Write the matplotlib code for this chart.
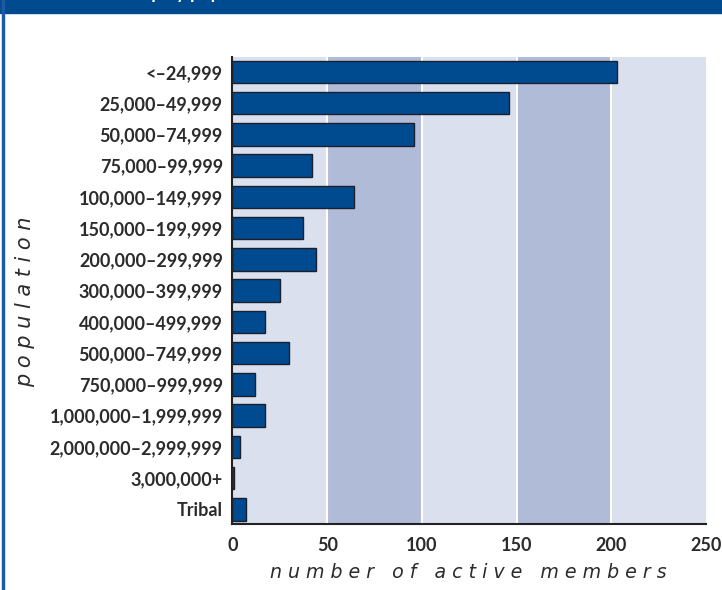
import matplotlib
matplotlib.use('Agg')
import matplotlib.pyplot as plt
from matplotlib.patches import Rectangle

# population groups and number of active members
categories = ['<–24,999', '25,000–49,999', '50,000–74,999', '75,000–99,999',
              '100,000–149,999', '150,000–199,999', '200,000–299,999',
              '300,000–399,999', '400,000–499,999', '500,000–749,999',
              '750,000–999,999', '1,000,000–1,999,999', '2,000,000–2,999,999',
              '3,000,000+', 'Tribal']
members = [203, 146, 96, 42, 64, 37, 44, 25, 17, 30, 12, 17, 4, 1, 7]
x_ticks = [0, 50, 100, 150, 200, 250]

dark_blue = '#004a8f'
text_col = '#2b2b2b'

fig = plt.figure(figsize=(7.22, 5.9), dpi=100)

# header bar (title runs off the top of the crop) and frame line
fig.patches.append(Rectangle((0, 1 - 13 / 590), 1, 13 / 590, transform=fig.transFigure,
                             color=dark_blue, zorder=0))
fig.patches.append(Rectangle((1.5 / 722, 0), 2 / 722, 1, transform=fig.transFigure,
                             color='#1c5aa6', zorder=0))
fig.text(60 / 722, 1 + 1 / 590, 'Membership by population', color='white',
         fontsize=13, fontweight='bold', family='Lato', va='baseline')

ax = fig.add_axes([232.5 / 722, 1 - 524.3 / 590, (706 - 232.5) / 722, (524.3 - 57) / 590])

# alternating background bands
for i in range(len(x_ticks) - 1):
    c = '#dbe0ee' if i % 2 == 0 else '#b0bbd8'
    ax.axvspan(x_ticks[i], x_ticks[i + 1], color=c, lw=0, zorder=0)
for t in x_ticks[1:-1]:
    ax.axvline(t, color='white', lw=1.5, zorder=1)

ypos = list(range(len(categories)))
ax.barh(ypos, members, height=0.72, color=dark_blue, edgecolor='#1b1f2e',
        linewidth=1, zorder=2)

ax.set_xlim(0, 250)
ax.set_ylim(14.48, -0.48)
ax.set_yticks(ypos)
ax.set_yticklabels(categories)
ax.set_xticks(x_ticks)
ax.tick_params(axis='both', length=0, labelsize=13, labelcolor=text_col)
ax.tick_params(axis='y', pad=7)
ax.tick_params(axis='x', pad=9)
for lab in ax.get_xticklabels() + ax.get_yticklabels():
    lab.set_fontfamily('Lato')
    lab.set_fontweight('bold')

for s in ['top', 'right']:
    ax.spines[s].set_visible(False)
for s in ['left', 'bottom']:
    ax.spines[s].set_color('#222222')
    ax.spines[s].set_linewidth(1.5)

fig.text(468 / 722, 1 - 572 / 590, 'n u m b e r   o f   a c t i v e   m e m b e r s',
         ha='center', va='center', fontsize=13.7, style='italic', color=text_col,
         family='DejaVu Sans')
fig.text(25 / 722, 1 - 302 / 590, 'p o p u l a t i o n', rotation=90,
         ha='center', va='center', fontsize=15, style='italic', color=text_col,
         family='DejaVu Sans')

fig.savefig('out.png', dpi=100)
